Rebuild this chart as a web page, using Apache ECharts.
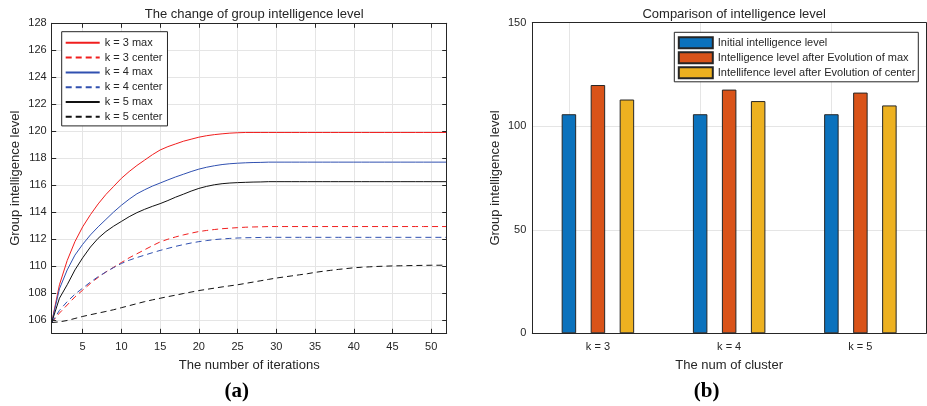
<!DOCTYPE html>
<html><head><meta charset="utf-8">
<script src="https://cdn.jsdelivr.net/npm/echarts@6/dist/echarts.min.js"></script>
<style>html,body{margin:0;padding:0;background:#fff}#c{width:927px;height:406px}</style>
</head><body><div id="c"></div>
<script>
// ---------- data: chart (a) ----------
const iterations = [1,2,3,4,5,6,7,8,9,10,11,12,13,14,15,16,17,18,19,20,21,22,23,24,25,26,27,28,29,30,31,32,33,34,35,36,37,38,39,40,41,42,43,44,45,46,47,48,49,50,51,52];
const k3max = [105.8,108.6,110.4,111.8,112.9,113.8,114.6,115.3,115.9,116.5,117.0,117.45,117.85,118.25,118.6,118.85,119.05,119.25,119.4,119.55,119.66,119.74,119.8,119.85,119.88,119.9,119.9,119.9,119.9,119.9,119.9,119.9,119.9,119.9,119.9,119.9,119.9,119.9,119.9,119.9,119.9,119.9,119.9,119.9,119.9,119.9,119.9,119.9,119.9,119.9,119.9,119.9];
const k3center = [105.8,106.5,107.1,107.7,108.2,108.7,109.15,109.55,109.9,110.25,110.6,110.9,111.2,111.5,111.78,111.98,112.15,112.3,112.43,112.55,112.63,112.7,112.76,112.8,112.84,112.87,112.89,112.9,112.92,112.92,112.92,112.92,112.92,112.92,112.92,112.92,112.92,112.92,112.92,112.92,112.92,112.92,112.92,112.92,112.92,112.92,112.92,112.92,112.92,112.92,112.92,112.92];
const k4max = [105.8,108.3,109.7,110.8,111.6,112.3,112.9,113.45,114.0,114.5,114.95,115.35,115.65,115.92,116.15,116.38,116.6,116.8,117.0,117.18,117.32,117.43,117.52,117.58,117.62,117.65,117.67,117.68,117.7,117.7,117.7,117.7,117.7,117.7,117.7,117.7,117.7,117.7,117.7,117.7,117.7,117.7,117.7,117.7,117.7,117.7,117.7,117.7,117.7,117.7,117.7,117.7];
const k4center = [105.8,106.7,107.35,107.9,108.35,108.8,109.2,109.55,109.88,110.18,110.42,110.62,110.8,110.98,111.15,111.3,111.45,111.58,111.7,111.8,111.88,111.95,112.0,112.04,112.07,112.09,112.1,112.11,112.12,112.12,112.12,112.12,112.12,112.12,112.12,112.12,112.12,112.12,112.12,112.12,112.12,112.12,112.12,112.12,112.12,112.12,112.12,112.12,112.12,112.12,112.12,112.12];
const k5max = [105.8,107.6,108.6,109.7,110.6,111.4,112.05,112.55,112.95,113.3,113.65,113.95,114.2,114.42,114.62,114.85,115.1,115.32,115.55,115.75,115.9,116.02,116.1,116.15,116.18,116.2,116.22,116.23,116.25,116.25,116.25,116.25,116.25,116.25,116.25,116.25,116.25,116.25,116.25,116.25,116.25,116.25,116.25,116.25,116.25,116.25,116.25,116.25,116.25,116.25,116.25,116.25];
const k5center = [105.8,105.85,105.95,106.1,106.25,106.38,106.5,106.62,106.75,106.9,107.05,107.2,107.35,107.48,107.6,107.72,107.83,107.95,108.06,108.17,108.26,108.35,108.44,108.52,108.6,108.7,108.8,108.9,109.0,109.1,109.18,109.26,109.34,109.42,109.52,109.6,109.67,109.74,109.8,109.86,109.9,109.93,109.96,109.98,110.0,110.01,110.02,110.03,110.04,110.05,110.05,110.06];
const xTicksA = [5,10,15,20,25,30,35,40,45,50];
const yTicksA = [106,108,110,112,114,116,118,120,122,124,126,128];
const lineNames = ['k = 3 max','k = 3 center','k = 4 max','k = 4 center','k = 5 max','k = 5 center'];

// ---------- data: chart (b) ----------
const clusters = ['k = 3','k = 4','k = 5'];
const initialLevel = [105.8,105.8,105.8];
const maxEvolution = [119.9,117.7,116.25];
const centerEvolution = [112.9,112.15,110.05];
const yTicksB = [0,50,100,150];
const barNames = ['Initial intelligence level','Intelligence level after Evolution of max','Intellifence level after Evolution of center'];

const TXT = '#262626', AX = '#262626', GRID = '#e5e5e5';
const FONT = '"Liberation Sans", Arial, Helvetica, sans-serif';

function pairs(arr){ return iterations.map((x,i)=>[x,arr[i]]); }

const chart = echarts.init(document.getElementById('c'), null, {renderer:'canvas'});

const tickStyle = {inside:true, length:4.5, lineStyle:{color:AX, width:1}};
const axLine = {show:true, onZero:false, lineStyle:{color:AX, width:1}};
const lblStyle = {color:TXT, fontSize:11, fontFamily:FONT};
const nameStyle = {color:TXT, fontSize:13, fontFamily:FONT};
const gridMark = (data)=>({
  silent:true, symbol:['none','none'], z:1, animation:false,
  label:{show:false},
  lineStyle:{color:GRID, width:1, type:'solid'},
  emphasis:{disabled:true},
  data:data
});

const lineColors = ['#f01e1e','#f01e1e','#3050b0','#3050b0','#111111','#111111'];
const lineData = [k3max,k3center,k4max,k4center,k5max,k5center];

const lineSeries = lineData.map((d,i)=>({
  name: lineNames[i], type:'line', xAxisIndex:0, yAxisIndex:0,
  data: pairs(d), showSymbol:false, symbol:'none', smooth:false,
  lineStyle:{color:lineColors[i], width:1, type: (i%2===1)?[6,4]:'solid'},
  itemStyle:{color:lineColors[i]},
  emphasis:{disabled:true}, z:2,
  markLine: i===0 ? gridMark([...yTicksA.map(v=>({yAxis:v})), ...xTicksA.map(v=>({xAxis:v}))]) : undefined
}));

const barColors = ['#0b72bd','#d95319','#edb120'];
const barData = [initialLevel, maxEvolution, centerEvolution];
const barSeries = barData.map((d,i)=>({
  name: barNames[i], type:'bar', xAxisIndex:2, yAxisIndex:2,
  data: d, barWidth:14.5, barGap:'100%',
  itemStyle:{color:barColors[i], borderColor:'#262626', borderWidth:1},
  emphasis:{disabled:true}, z:2,
  markLine: i===0 ? gridMark([...clusters.map(c=>({xAxis:c})), ...yTicksB.map(v=>({yAxis:v}))]) : undefined
}));

const option = {
  animation:false,
  backgroundColor:'#fff',
  textStyle:{fontFamily:FONT},
  title:[
    {text:'The change of group intelligence level', left:249.2, top:3, textAlign:'center',
     textStyle:{color:TXT, fontSize:13, fontWeight:'normal', fontFamily:FONT}},
    {text:'Comparison of intelligence level', left:729.2, top:3, textAlign:'center',
     textStyle:{color:TXT, fontSize:13, fontWeight:'normal', fontFamily:FONT}}
  ],
  grid:[
    {left:51.7, top:23.3, width:395, height:310, containLabel:false, outerBoundsMode:'none'},
    {left:532.3, top:22.7, width:393.7, height:310.6, containLabel:false, outerBoundsMode:'none'}
  ],
  legend:[
    {data:lineNames, orient:'vertical', left:61.7, top:31.7, itemWidth:34, itemHeight:14, itemGap:3.6,
     padding:[5.5,5,3.5,3], borderColor:'#262626', borderWidth:1, backgroundColor:'#fff',
     itemStyle:{opacity:0},
     selectedMode:false, textStyle:{color:TXT, fontSize:11, fontFamily:FONT}, z:20},
    {data:barNames, orient:'vertical', left:674.3, top:32.3, itemWidth:34, itemHeight:11, itemGap:2,
     padding:[4,3,2.5,3.5], borderColor:'#262626', borderWidth:1, backgroundColor:'#fff', icon:'rect',
     selectedMode:false, textStyle:{color:TXT, fontSize:11, fontFamily:FONT}, z:20}
  ],
  xAxis:[
    {type:'value', gridIndex:0, min:1, max:52, z:10,
     axisLine:axLine, axisTick:Object.assign({customValues:xTicksA}, tickStyle),
     axisLabel:Object.assign({customValues:xTicksA, margin:8}, lblStyle),
     splitLine:{show:false},
     name:'The number of iterations', nameLocation:'middle', nameGap:26, nameTextStyle:nameStyle, nameMoveOverlap:false},
    {type:'value', gridIndex:0, min:1, max:52, position:'top', z:10,
     axisLine:axLine, axisTick:Object.assign({customValues:xTicksA}, tickStyle),
     axisLabel:{show:false}, splitLine:{show:false}},
    {type:'category', gridIndex:1, data:clusters, boundaryGap:true, z:10,
     axisLine:axLine, axisTick:Object.assign({alignWithLabel:true}, tickStyle),
     axisLabel:Object.assign({margin:8}, lblStyle),
     splitLine:{show:false},
     name:'The num of cluster', nameLocation:'middle', nameGap:26, nameTextStyle:nameStyle, nameMoveOverlap:false},
    {type:'category', gridIndex:1, data:clusters, boundaryGap:true, position:'top', z:10,
     axisLine:axLine, axisTick:Object.assign({alignWithLabel:true}, tickStyle),
     axisLabel:{show:false}, splitLine:{show:false}}
  ],
  yAxis:[
    {type:'value', gridIndex:0, min:105, max:128, z:10,
     axisLine:axLine, axisTick:Object.assign({customValues:yTicksA}, tickStyle),
     axisLabel:Object.assign({customValues:yTicksA, margin:5}, lblStyle),
     splitLine:{show:false},
     name:'Group intelligence level', nameLocation:'middle', nameGap:30, nameTextStyle:nameStyle, nameMoveOverlap:false},
    {type:'value', gridIndex:0, min:105, max:128, position:'right', z:10,
     axisLine:axLine, axisTick:Object.assign({customValues:yTicksA}, tickStyle),
     axisLabel:{show:false}, splitLine:{show:false}},
    {type:'value', gridIndex:1, min:0, max:150, interval:50, z:10,
     axisLine:axLine, axisTick:tickStyle,
     axisLabel:Object.assign({margin:6}, lblStyle),
     splitLine:{show:false},
     name:'Group intelligence level', nameLocation:'middle', nameGap:30, nameTextStyle:nameStyle, nameMoveOverlap:false},
    {type:'value', gridIndex:1, min:0, max:150, interval:50, position:'right', z:10,
     axisLine:axLine, axisTick:tickStyle,
     axisLabel:{show:false}, splitLine:{show:false}}
  ],
  graphic:[
    {type:'text', x:236.7, y:392, style:{text:'(a)', font:'bold 21px "Liberation Serif", "Times New Roman", serif', fill:'#000', textAlign:'center', textVerticalAlign:'middle'}},
    {type:'text', x:706.7, y:392, style:{text:'(b)', font:'bold 21px "Liberation Serif", "Times New Roman", serif', fill:'#000', textAlign:'center', textVerticalAlign:'middle'}}
  ],
  series:[...lineSeries, ...barSeries]
};
chart.setOption(option);
</script>
</body></html>
